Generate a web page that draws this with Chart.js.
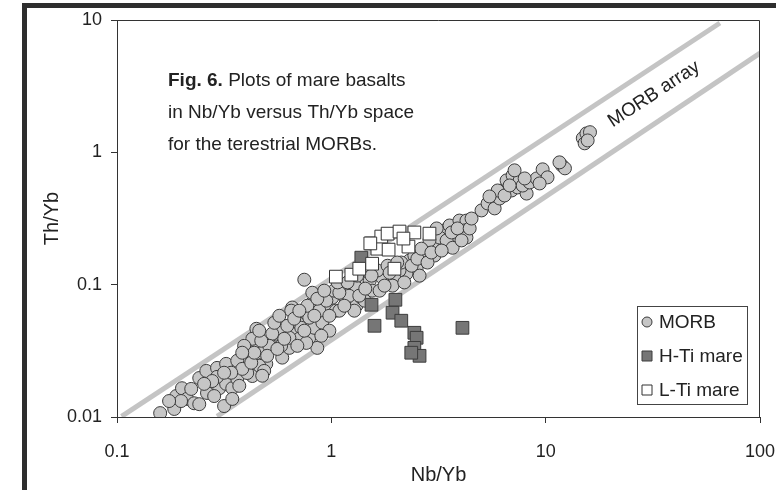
<!DOCTYPE html>
<html>
<head>
<meta charset="utf-8">
<script src="https://cdn.jsdelivr.net/npm/chart.js@4.4.1/dist/chart.umd.min.js"></script>
<style>
  html, body { margin: 0; padding: 0; background: #fff; }
  #wrap { position: relative; width: 776px; height: 490px; overflow: hidden; }
  #frame { position: absolute; left: 22px; top: 3px; width: 800px; height: 520px;
           border-top: 5px solid #2e2e2e; border-left: 5px solid #2e2e2e; pointer-events: none; }
</style>
</head>
<body>
<div id="wrap">
  <canvas id="morbChart" width="776" height="490"></canvas>
  <div id="frame"></div>
</div>
<script>
// axis ticks
const xTicks = [0.1, 1, 10, 100];
const xTickLabels = ['0.1', '1', '10', '100'];
const yTicks = [0.01, 0.1, 1, 10];
const yTickLabels = ['0.01', '0.1', '1', '10'];

// MORB (Nb/Yb, Th/Yb)
const morbNbYb = [
  0.159, 0.185, 0.189, 0.201, 0.212, 0.229, 0.242, 0.242, 0.261, 0.263,
  0.293, 0.300, 0.316, 0.323, 0.323, 0.345, 0.364, 0.401, 0.405, 0.428,
  0.447, 0.451, 0.476, 0.497, 0.513, 0.553, 0.583, 0.590, 0.637, 0.657,
  0.686, 0.709, 0.732, 0.764, 0.789, 0.833, 0.860, 0.851, 0.908, 0.958,
  0.979, 1.01, 1.05, 1.13, 1.17, 1.25, 1.31, 1.40, 1.46, 0.293,
  0.364, 0.405, 0.461, 0.486, 0.428, 0.530, 0.650, 0.724, 0.709, 0.789,
  0.807, 0.879, 0.948, 1.03, 1.09, 1.24, 1.28, 1.38, 0.513, 0.583,
  0.764, 0.637, 0.815, 0.384, 0.278, 0.222, 2.31, 2.50, 2.58, 2.24,
  2.08, 2.78, 3.10, 3.37, 3.37, 3.20, 1.97, 1.73, 1.64, 1.51,
  1.31, 1.21, 1.09, 1.55, 1.83, 1.93, 1.68, 1.43, 3.56, 3.96,
  4.27, 4.18, 3.84, 3.45, 3.68, 3.03, 2.72, 2.44, 4.27, 5.02,
  5.36, 5.78, 6.10, 6.30, 5.97, 6.57, 7.01, 6.94, 7.40, 7.56,
  8.15, 7.81, 8.42, 9.08, 9.68, 10.2, 11.9, 12.3, 14.9, 15.5,
  16.1, 15.2, 0.748, 2.87, 3.10, 2.12,
  0.255, 0.284, 0.341, 0.372, 0.392, 0.423, 0.437, 0.471, 0.502, 0.542,
  0.560, 0.603, 0.623, 0.671, 0.694, 0.748, 0.773, 0.833, 0.860, 0.898,
  0.927, 0.979, 1.07, 1.15, 1.19, 1.32, 1.35, 1.44, 1.54, 1.77,
  1.87, 2.03, 2.19, 2.37, 2.52, 2.63, 2.81, 2.93, 3.27, 3.64,
  3.88, 4.05, 4.42, 4.51, 5.47, 6.43, 6.79, 7.16, 7.98, 9.37,
  11.6, 15.7, 0.199, 0.175, 0.345, 0.461, 0.572, 0.709, 0.384, 0.316,
  0.476
];
const morbThYb = [
  0.0107, 0.0115, 0.0144, 0.0165, 0.0137, 0.0127, 0.0125, 0.0197, 0.0223, 0.0152,
  0.0235, 0.0165, 0.0121, 0.0252, 0.0178, 0.0165, 0.0194, 0.0302, 0.0266, 0.0204,
  0.0464, 0.0333, 0.0306, 0.0252, 0.0357, 0.0426, 0.0449, 0.0281, 0.0333, 0.0672,
  0.0426, 0.0507, 0.0377, 0.0605, 0.0397, 0.0472, 0.0333, 0.0672, 0.0516, 0.0672,
  0.0449, 0.0797, 0.0636, 0.0901, 0.0757, 0.0950, 0.0696, 0.0901, 0.107, 0.0201,
  0.0266, 0.0215, 0.0244, 0.0223, 0.0390, 0.0426, 0.0636, 0.0472, 0.0390, 0.0563,
  0.0720, 0.0636, 0.0757, 0.0901, 0.0636, 0.0901, 0.0636, 0.0797, 0.0345, 0.0345,
  0.0363, 0.0397, 0.0869, 0.0231, 0.0187, 0.0163, 0.152, 0.132, 0.117, 0.121,
  0.128, 0.172, 0.198, 0.257, 0.190, 0.227, 0.111, 0.113, 0.128, 0.107,
  0.0950, 0.0824, 0.0869, 0.0901, 0.139, 0.0983, 0.0901, 0.0757, 0.280, 0.305,
  0.305, 0.257, 0.235, 0.216, 0.190, 0.166, 0.181, 0.166, 0.227, 0.364,
  0.411, 0.377, 0.448, 0.515, 0.515, 0.614, 0.670, 0.515, 0.543, 0.614,
  0.488, 0.561, 0.592, 0.635, 0.744, 0.647, 0.797, 0.757, 1.28, 1.39,
  1.42, 1.17, 0.109, 0.216, 0.266, 0.147,
  0.0178, 0.0144, 0.0216, 0.0172, 0.0345, 0.0257, 0.0306, 0.0377, 0.0290, 0.0515,
  0.0327, 0.0390, 0.0489, 0.0553, 0.0345, 0.0449, 0.0693, 0.0582, 0.0783, 0.0411,
  0.0901, 0.0582, 0.104, 0.0693, 0.104, 0.117, 0.0826, 0.0933, 0.117, 0.0983,
  0.123, 0.147, 0.104, 0.139, 0.157, 0.187, 0.147, 0.175, 0.181, 0.248,
  0.266, 0.216, 0.266, 0.316, 0.464, 0.472, 0.562, 0.731, 0.635, 0.582,
  0.840, 1.23, 0.0132, 0.0132, 0.0137, 0.0449, 0.0582, 0.0636, 0.0306, 0.0216,
  0.0205
];

// H-Ti mare
const htiNbYb = [1.38, 1.54, 1.54, 1.59, 1.99, 1.93, 2.12, 2.44, 2.50, 2.44, 2.58, 2.36, 4.09];
const htiThYb = [0.160, 0.205, 0.0705, 0.0489, 0.0769, 0.0614, 0.0534, 0.0433, 0.0397, 0.0333, 0.0290, 0.0306, 0.0472];

// L-Ti mare
const ltiNbYb = [1.05, 1.24, 1.35, 1.55, 1.64, 1.85, 1.71, 1.83, 2.08, 2.29, 2.44, 2.87, 1.97, 1.52, 2.17];
const ltiThYb = [0.115, 0.119, 0.132, 0.144, 0.187, 0.184, 0.231, 0.243, 0.252, 0.194, 0.248, 0.243, 0.132, 0.205, 0.223];

// MORB array bounds
const upperNbYb = [0.105, 65];
const upperThYb = [0.0101, 9.49];
const lowerNbYb = [0.293, 100];
const lowerThYb = [0.0101, 5.62];

const noteLines = ['Plots of mare basalts', 'in Nb/Yb versus Th/Yb space', 'for the terestrial MORBs.'];

const pts = (xs, ys) => xs.map((v, i) => ({ x: v, y: ys[i] }));

Chart.defaults.font.family = '"Liberation Sans", Arial, sans-serif';
Chart.defaults.color = '#222';

const decor = {
  id: 'decor',
  afterDatasetsDraw(chart) {
    const { ctx, chartArea: a, scales: { x, y } } = chart;
    ctx.save();
    // top and right edge of the plot box
    ctx.strokeStyle = '#333';
    ctx.lineWidth = 1;
    ctx.beginPath();
    ctx.moveTo(a.left, a.top + 0.5);
    ctx.lineTo(a.right - 0.5, a.top + 0.5);
    ctx.lineTo(a.right - 0.5, a.bottom);
    ctx.stroke();

    // figure note
    ctx.fillStyle = '#222';
    ctx.textBaseline = 'middle';
    ctx.textAlign = 'left';
    const tx = a.left + 51;
    ctx.font = 'bold 19px "Liberation Sans", Arial, sans-serif';
    ctx.fillText('Fig. 6.', tx, a.top + 61);
    const w = ctx.measureText('Fig. 6. ').width;
    ctx.font = '19px "Liberation Sans", Arial, sans-serif';
    ctx.fillText(noteLines[0], tx + w, a.top + 61);
    ctx.fillText(noteLines[1], tx, a.top + 93);
    ctx.fillText(noteLines[2], tx, a.top + 125);

    // MORB array label along the band
    const ang = Math.atan2(
      y.getPixelForValue(upperThYb[1]) - y.getPixelForValue(upperThYb[0]),
      x.getPixelForValue(upperNbYb[1]) - x.getPixelForValue(upperNbYb[0]));
    ctx.font = '19px "Liberation Sans", Arial, sans-serif';
    ctx.translate(x.getPixelForValue(32), y.getPixelForValue(2.75));
    ctx.rotate(ang);
    ctx.textAlign = 'center';
    ctx.fillText('MORB array', 0, 0);
    ctx.setTransform(1, 0, 0, 1, 0, 0);

    // legend box
    const bx = a.right - 123, by = a.bottom - 111, bw = 110, bh = 98;
    ctx.fillStyle = '#fff';
    ctx.fillRect(bx, by, bw, bh);
    ctx.strokeStyle = '#444';
    ctx.strokeRect(bx + 0.5, by + 0.5, bw, bh);
    ctx.textAlign = 'left';
    chart.data.datasets.slice(0, 3).forEach((ds, i) => {
      const cy = by + 16 + i * 34;
      const cx = bx + 10;
      ctx.fillStyle = ds.backgroundColor;
      ctx.strokeStyle = ds.borderColor;
      ctx.beginPath();
      if (ds.pointStyle === 'circle') ctx.arc(cx, cy, 5, 0, Math.PI * 2);
      else ctx.rect(cx - 5, cy - 5, 10, 10);
      ctx.fill();
      ctx.stroke();
      ctx.fillStyle = '#222';
      ctx.fillText(ds.label, bx + 22, cy + 1);
    });
    ctx.restore();
  }
};

const ctx = document.getElementById('morbChart').getContext('2d');

const config = {
  type: 'scatter',
  data: {
    datasets: [
      {
        label: 'MORB',
        data: pts(morbNbYb, morbThYb),
        pointStyle: 'circle',
        pointRadius: 6.5,
        backgroundColor: '#c6c6c6',
        borderColor: '#3c3c3c',
        borderWidth: 1,
        order: 3
      },
      {
        label: 'H-Ti mare',
        data: pts(htiNbYb, htiThYb),
        pointStyle: 'rect',
        pointRadius: 9,
        backgroundColor: '#767676',
        borderColor: '#3c3c3c',
        borderWidth: 1,
        order: 2
      },
      {
        label: 'L-Ti mare',
        data: pts(ltiNbYb, ltiThYb),
        pointStyle: 'rect',
        pointRadius: 9,
        backgroundColor: '#ffffff',
        borderColor: '#333333',
        borderWidth: 1,
        order: 1
      },
      {
        type: 'line',
        label: 'upper',
        data: pts(upperNbYb, upperThYb),
        borderColor: '#c4c4c4',
        borderWidth: 5,
        pointRadius: 0,
        order: 10
      },
      {
        type: 'line',
        label: 'lower',
        data: pts(lowerNbYb, lowerThYb),
        borderColor: '#c4c4c4',
        borderWidth: 5,
        pointRadius: 0,
        order: 10
      }
    ]
  },
  options: {
    responsive: false,
    animation: false,
    layout: { padding: { top: 20, right: 16, left: 0, bottom: 0 } },
    plugins: {
      legend: { display: false },
      tooltip: { enabled: false }
    },
    scales: {
      x: {
        type: 'logarithmic',
        min: 0.1,
        max: 100,
        afterBuildTicks: (s) => { s.ticks = xTicks.map(v => ({ value: v })); },
        afterFit: (s) => { s.height = 73; s.paddingRight = 16; s.paddingLeft = 0; },
        ticks: {
          font: { size: 18 },
          color: '#222',
          padding: 18,
          maxRotation: 0,
          callback: (v) => xTickLabels[xTicks.indexOf(v)]
        },
        grid: { drawOnChartArea: false, tickLength: 6, color: '#333' },
        border: { color: '#333' },
        title: { display: true, text: 'Nb/Yb', font: { size: 20 }, color: '#222', padding: { bottom: 3 } }
      },
      y: {
        type: 'logarithmic',
        min: 0.01,
        max: 10,
        afterBuildTicks: (s) => { s.ticks = yTicks.map(v => ({ value: v })); },
        afterFit: (s) => { s.width = 117; },
        ticks: {
          font: { size: 18 },
          color: '#222',
          padding: 9,
          callback: (v) => yTickLabels[yTicks.indexOf(v)]
        },
        grid: { drawOnChartArea: false, tickLength: 6, color: '#333' },
        border: { color: '#333' },
        title: { display: true, text: 'Th/Yb', font: { size: 20 }, color: '#222', padding: { top: 40 } }
      }
    }
  },
  plugins: [decor]
};

const morbChart = new Chart(ctx, config);
</script>
</body>
</html>
